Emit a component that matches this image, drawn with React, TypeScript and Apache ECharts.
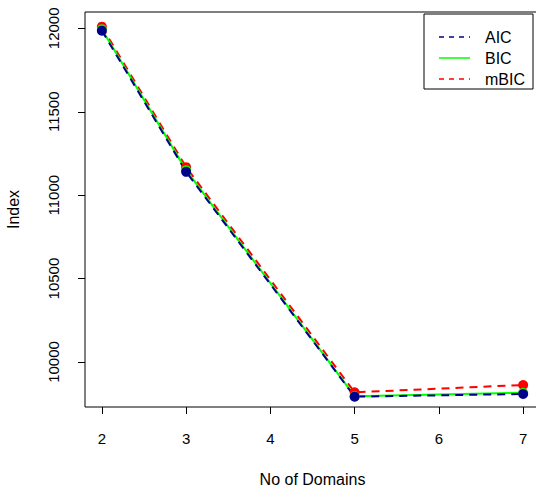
import React, { useEffect, useRef } from "react";
import * as echarts from "echarts";

const domains = [2, 3, 5, 7];
const aic = [11986, 11140, 9792, 9808];
const bic = [11995, 11150, 9795, 9815];
const mbic = [12010, 11168, 9818, 9862];
const xTicks = [2, 3, 4, 5, 6, 7];
const yTicks = [10000, 10500, 11000, 11500, 12000];
const legendNames = ["AIC", "BIC", "mBIC"];

const FONT = "Liberation Sans, Arial, Helvetica, sans-serif";
const NAVY = "#00008B";
const GREEN = "#00FF00";
const RED = "#FF0000";

export default function App() {
  const ref = useRef<HTMLDivElement>(null);
  useEffect(() => {
    const chart = echarts.init(ref.current!, null, { renderer: "svg" });
    const pair = (ys: number[]) => domains.map((d, i) => [d, ys[i]]);
    const mk = (name: string, ys: number[], color: string, type: any) => ({
      name,
      type: "line",
      data: pair(ys),
      symbol: "circle",
      symbolSize: 10,
      showSymbol: true,
      itemStyle: { color },
      lineStyle: { color, width: 2, type },
    });
    const legendColors = [NAVY, GREEN, RED];
    const legendTypes: any[] = [[5, 5], "solid", [5, 5]];
    const legendYs = [37, 58, 79];
    chart.setOption({
      animation: false,
      backgroundColor: "#fff",
      textStyle: { fontFamily: FONT },
      grid: {
        left: 85,
        top: 12,
        width: 455,
        height: 395,
        show: true,
        borderColor: "#000",
        borderWidth: 1,
        outerBoundsMode: "none",
        containLabel: false,
      },
      xAxis: {
        type: "value",
        min: 1.8,
        max: 7.2,
        name: "No of Domains",
        nameLocation: "middle",
        nameGap: 64,
        nameTextStyle: { fontSize: 16, color: "#000", fontFamily: FONT },
        axisLine: { show: false },
        splitLine: { show: false },
        axisTick: { show: true, customValues: xTicks, length: 7, lineStyle: { color: "#000" } },
        axisLabel: { customValues: xTicks, fontSize: 15, color: "#000", margin: 24, fontFamily: FONT },
      },
      yAxis: {
        type: "value",
        min: 9730,
        max: 12098,
        name: "Index",
        nameLocation: "middle",
        nameGap: 64,
        nameRotate: 90,
        nameTextStyle: { fontSize: 16, color: "#000", fontFamily: FONT },
        axisLine: { show: false },
        splitLine: { show: false },
        axisTick: { show: true, customValues: yTicks, length: 7, lineStyle: { color: "#000" } },
        axisLabel: {
          customValues: yTicks,
          fontSize: 15,
          color: "#000",
          rotate: 90,
          margin: 24,
          fontFamily: FONT,
          formatter: (v: number) => String(v),
        },
      },
      series: [mk("mBIC", mbic, RED, [8, 6]), mk("BIC", bic, GREEN, "solid"), mk("AIC", aic, NAVY, [8, 6])],
      graphic: [
        {
          type: "rect",
          shape: { x: 424, y: 14, width: 109, height: 75 },
          style: { fill: "#fff", stroke: "#000", lineWidth: 1 },
          z: 100,
        },
        ...legendNames.flatMap((n, i) => [
          {
            type: "line",
            shape: { x1: 439, y1: legendYs[i], x2: 470, y2: legendYs[i] },
            style: { stroke: legendColors[i], lineWidth: 1.5, lineDash: legendTypes[i] === "solid" ? null : legendTypes[i] },
            z: 101,
          },
          {
            type: "text",
            x: 485,
            y: legendYs[i],
            style: { text: n, fontSize: 16, fill: "#000", fontFamily: FONT, textVerticalAlign: "middle", verticalAlign: "middle" },
            z: 101,
          },
        ]),
      ],
    });
    return () => chart.dispose();
  }, []);
  return <div ref={ref} style={{ position: "fixed", left: 0, top: 0, width: 536, height: 488 }} />;
}
